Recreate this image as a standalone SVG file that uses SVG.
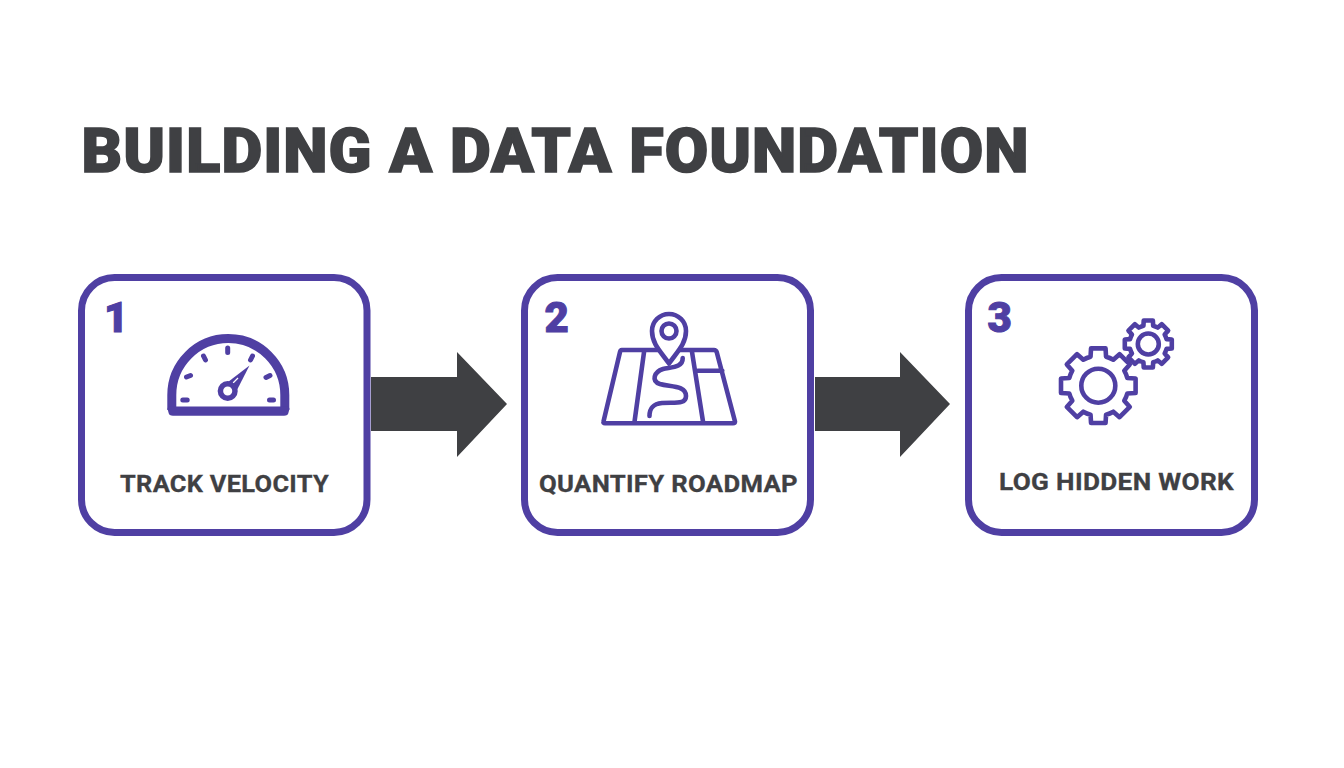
<svg xmlns="http://www.w3.org/2000/svg" xmlns:xlink="http://www.w3.org/1999/xlink" width="1344" height="768" viewBox="0 0 1344 768">
<style>
.box{fill:#fff;stroke:#4f3fa3;stroke-width:7}
.num{font-family:Roboto,"Liberation Sans",sans-serif;font-weight:900;font-size:42px;fill:#4f3fa3;stroke:#4f3fa3;stroke-width:1}
.lbl{font-family:Roboto,"Liberation Sans",sans-serif;font-weight:700;font-size:24px;letter-spacing:.3px;fill:#3f4043;stroke:#3f4043;stroke-width:.3}
.ttl{font-family:Roboto,"Liberation Sans",sans-serif;font-weight:900;font-size:61.500px;letter-spacing:1px;fill:#3f4043;stroke:#3f4043;stroke-width:1.500}
.ln{fill:none;stroke:#4f3fa3;stroke-width:4.600;stroke-linecap:round;stroke-linejoin:round}
.tick{fill:none;stroke:#4f3fa3;stroke-width:5;stroke-linecap:round}
.arrow{fill:#3f4043}
</style>
<defs>
<path id="gear" d="M-7.76-28.98L-7.25-37.3H7.25L7.76-28.98Q11.5-28 15-25.98L21.25-31.5L31.5-21.25L25.98-15Q28-11.5 28.98-7.76L37.3-7.25V7.25L28.98 7.76Q28 11.5 25.98 15L31.5 21.25L21.25 31.5L15 25.98Q11.5 28 7.76 28.98L7.25 37.3H-7.25L-7.76 28.98Q-11.5 28-15 25.98L-21.25 31.5L-31.5 21.25L-25.98 15Q-28 11.5-28.98 7.76L-37.3 7.25V-7.25L-28.98-7.76Q-28-11.5-25.98-15L-31.5-21.25L-21.25-31.5L-15-25.98Q-11.5-28-7.76-28.98Z"/>
</defs>
<rect width="1344" height="768" fill="#fff"/>
<text id="title" class="ttl" x="81.500" y="171.500" textLength="948" lengthAdjust="spacingAndGlyphs">BUILDING A DATA FOUNDATION</text>
<g id="connectors">
<path class="arrow" d="M371 377H457V352L507 404L457 457V431H371Z"/>
<path class="arrow" d="M815 377H900V352L950 404L900 457V431H815Z"/>
</g>
<g id="node-1">
<rect class="box" x="81.500" y="277.500" width="285.500" height="255" rx="33"/>
<text class="num" x="104" y="331.500">1</text>
<path d="M171.800 410V395A56.500 56.500 0 0 1 284.800 395V410" fill="none" stroke="#4f3fa3" stroke-width="9"/>
<path d="M170 406.500H287Q290 406.500 289.300 409.500L288.500 412.500Q288 415.800 284 415.800H173Q169 415.800 168.500 412.500L167.700 409.500Q167 406.500 170 406.500Z" fill="#4f3fa3"/>
<path class="tick" d="M182.800 400H187.200M186.500 377L190.500 375.500M203.500 356L205.500 360M227.700 348V352.500M252.500 356L250.500 360M270 375.500L266 377.500M269.500 400H273.500"/>
<path d="M228 382L249.500 365.500L237 390Z" fill="#4f3fa3"/>
<path d="M233 383L238 378" stroke="#fff" stroke-width="1.200" fill="none"/>
<circle cx="227.700" cy="391" r="7.300" fill="#fff" stroke="#4f3fa3" stroke-width="5.500"/>
<text class="lbl" x="120" y="491.500" textLength="209" lengthAdjust="spacingAndGlyphs">TRACK VELOCITY</text>
</g>
<g id="node-2">
<rect class="box" x="524.500" y="277.500" width="286" height="255" rx="33"/>
<text class="num" x="544.500" y="331.500">2</text>
<path class="ln" d="M621.700 350H714Q716 350 716.700 352L735 421.500Q735 423.300 733 423.300H605Q603 423.300 603.500 421.500L620 352Q620.500 350 621.700 350ZM644.300 350L634.300 423.300M691.700 350L703.300 423.300M697.700 370.700H722.300"/>
<path class="ln" d="M682.700 358C683 368 670 367 663 369C654 372 651 381 660 384C670 387 686 385 686 396C686 405 674 402 662 403C653 404 649.500 408 649.500 416"/>
<path class="ln" d="M669 363.500C661 352 652 344 652 331A17 17 0 0 1 686 331C686 344 677 352 669 363.500Z" style="fill:#fff"/>
<circle class="ln" cx="669" cy="331" r="7.500"/>
<text class="lbl" x="539" y="491.500" textLength="259" lengthAdjust="spacingAndGlyphs">QUANTIFY ROADMAP</text>
</g>
<g id="node-3">
<rect class="box" x="968.500" y="277.500" width="286" height="255" rx="33"/>
<text class="num" x="987.500" y="331.500">3</text>
<use xlink:href="#gear" href="#gear" class="ln" transform="translate(1098.300 385.700)"/>
<circle class="ln" cx="1098.300" cy="385.700" r="17"/>
<use xlink:href="#gear" href="#gear" class="ln" style="stroke-width:7.300" transform="translate(1148.300 344) scale(.63)"/>
<circle class="ln" cx="1148.300" cy="344" r="10.500"/>
<text class="lbl" x="999" y="489.500" textLength="235" lengthAdjust="spacingAndGlyphs">LOG HIDDEN WORK</text>
</g>
</svg>
